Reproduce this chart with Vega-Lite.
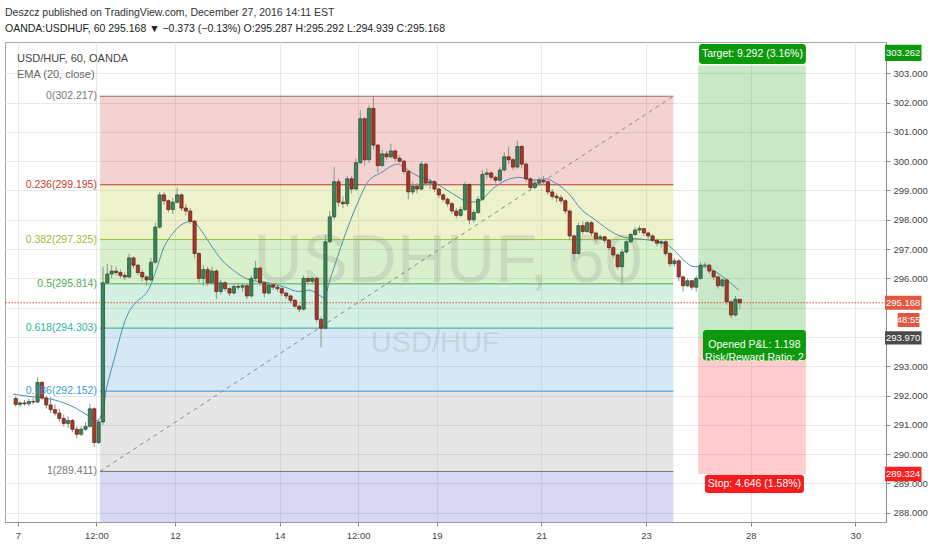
{
  "$schema": "https://vega.github.io/schema/vega-lite/v6.json",
  "width": 881,
  "height": 480,
  "autosize": {"type": "none"},
  "padding": {"left": 5, "top": 42, "right": 46, "bottom": 28},
  "background": "#ffffff",
  "title": {
    "text": "Deszcz published on TradingView.com, December 27, 2016 14:11 EST",
    "subtitle": "OANDA:USDHUF, 60  295.168 ▼ −0.373 (−0.13%)  O:295.287  H:295.292  L:294.939  C:295.168",
    "anchor": "start",
    "frame": "group",
    "font": "Liberation Sans",
    "subtitleFont": "Liberation Sans",
    "fontSize": 10.5,
    "fontWeight": "normal",
    "color": "#333333",
    "subtitleFontSize": 10.5,
    "subtitleColor": "#222222",
    "subtitlePadding": 5,
    "offset": 8
  },
  "config": {
    "view": {"stroke": "#a8a8a8"},
    "font": "Liberation Sans"
  },
  "resolve": {"scale": {"color": "independent"}},
  "datasets": {
    "levels": [
      {"t": 37.6, "t2": 300.5, "p": 302.217, "lvl": "0", "label": "0(302.217)"},
      {"t": 37.6, "t2": 300.5, "p": 299.195, "lvl": "0.236", "label": "0.236(299.195)"},
      {"t": 37.6, "t2": 300.5, "p": 297.325, "lvl": "0.382", "label": "0.382(297.325)"},
      {"t": 37.6, "t2": 300.5, "p": 295.814, "lvl": "0.5", "label": "0.5(295.814)"},
      {"t": 37.6, "t2": 300.5, "p": 294.303, "lvl": "0.618", "label": "0.618(294.303)"},
      {"t": 37.6, "t2": 300.5, "p": 292.152, "lvl": "0.786", "label": "0.786(292.152)"},
      {"t": 37.6, "t2": 300.5, "p": 289.411, "lvl": "1", "label": "1(289.411)"}
    ],
    "candles": [
      {"t": -1, "o": 291.9, "h": 291.98, "l": 291.62, "c": 291.7},
      {"t": 1, "o": 291.7, "h": 291.82, "l": 291.62, "c": 291.75},
      {"t": 3, "o": 291.75, "h": 291.85, "l": 291.66, "c": 291.72},
      {"t": 5, "o": 291.72, "h": 291.9, "l": 291.65, "c": 291.8},
      {"t": 7, "o": 291.8, "h": 291.92, "l": 291.7, "c": 291.78},
      {"t": 9, "o": 291.78, "h": 292.62, "l": 291.75, "c": 292.45},
      {"t": 11, "o": 292.45, "h": 292.5, "l": 291.85, "c": 291.92},
      {"t": 13, "o": 291.92, "h": 292.0, "l": 291.55, "c": 291.68},
      {"t": 15, "o": 291.68, "h": 291.95, "l": 291.4, "c": 291.52},
      {"t": 17, "o": 291.52, "h": 291.7, "l": 291.3, "c": 291.4},
      {"t": 19, "o": 291.4, "h": 291.55, "l": 291.1, "c": 291.22},
      {"t": 21, "o": 291.22, "h": 291.35, "l": 290.95, "c": 291.05},
      {"t": 23, "o": 291.05, "h": 291.3, "l": 290.9, "c": 291.15},
      {"t": 25, "o": 291.15, "h": 291.2, "l": 290.75, "c": 290.85},
      {"t": 27, "o": 290.85, "h": 290.95, "l": 290.55, "c": 290.68},
      {"t": 29, "o": 290.68, "h": 290.95, "l": 290.62, "c": 290.85},
      {"t": 31, "o": 290.85, "h": 291.1, "l": 290.8, "c": 290.95},
      {"t": 33, "o": 290.95, "h": 291.72, "l": 290.9, "c": 291.55},
      {"t": 35, "o": 291.55, "h": 291.6, "l": 290.25, "c": 290.4},
      {"t": 37, "o": 290.4, "h": 291.2, "l": 290.35, "c": 291.1},
      {"t": 39, "o": 291.1, "h": 296.4, "l": 291.0, "c": 295.85},
      {"t": 41, "o": 295.85, "h": 296.5, "l": 295.8, "c": 296.15},
      {"t": 43, "o": 296.15, "h": 296.45, "l": 296.0, "c": 296.25},
      {"t": 45, "o": 296.25, "h": 296.4, "l": 296.1, "c": 296.2},
      {"t": 47, "o": 296.2, "h": 296.3, "l": 296.0, "c": 296.1},
      {"t": 49, "o": 296.1, "h": 296.2, "l": 295.95, "c": 296.05},
      {"t": 51, "o": 296.05, "h": 296.85, "l": 296.0, "c": 296.7},
      {"t": 53, "o": 296.7, "h": 296.75, "l": 296.35, "c": 296.45},
      {"t": 55, "o": 296.45, "h": 296.5, "l": 296.1, "c": 296.2},
      {"t": 57, "o": 296.2, "h": 296.3, "l": 295.9, "c": 296.05},
      {"t": 59, "o": 296.05, "h": 296.1, "l": 295.75, "c": 295.95},
      {"t": 61, "o": 295.95, "h": 296.7, "l": 295.9, "c": 296.55},
      {"t": 63, "o": 296.55, "h": 297.9, "l": 296.5, "c": 297.75},
      {"t": 65, "o": 297.75, "h": 298.95, "l": 297.7, "c": 298.85},
      {"t": 67, "o": 298.85, "h": 298.95, "l": 298.5, "c": 298.65},
      {"t": 69, "o": 298.65, "h": 298.7, "l": 298.25, "c": 298.35},
      {"t": 71, "o": 298.35, "h": 298.75, "l": 298.2, "c": 298.6},
      {"t": 73, "o": 298.6, "h": 299.1, "l": 298.55, "c": 298.85},
      {"t": 75, "o": 298.85, "h": 298.9, "l": 298.3, "c": 298.4},
      {"t": 77, "o": 298.4, "h": 298.55, "l": 298.15, "c": 298.3},
      {"t": 79, "o": 298.3, "h": 298.4, "l": 297.85, "c": 297.95},
      {"t": 81, "o": 297.95, "h": 298.0, "l": 296.7, "c": 296.85},
      {"t": 83, "o": 296.85, "h": 296.9, "l": 295.85, "c": 296.0},
      {"t": 85, "o": 296.0, "h": 296.45, "l": 295.75, "c": 296.3},
      {"t": 87, "o": 296.3, "h": 296.4, "l": 295.75, "c": 295.85},
      {"t": 89, "o": 295.85, "h": 296.4, "l": 295.8, "c": 296.25},
      {"t": 91, "o": 296.25, "h": 296.3, "l": 295.3, "c": 295.55},
      {"t": 93, "o": 295.55, "h": 295.95, "l": 295.45, "c": 295.85},
      {"t": 95, "o": 295.85, "h": 295.9, "l": 295.55, "c": 295.65},
      {"t": 97, "o": 295.65, "h": 295.7, "l": 295.4, "c": 295.5},
      {"t": 99, "o": 295.5, "h": 295.8, "l": 295.45, "c": 295.72},
      {"t": 101, "o": 295.72, "h": 295.85, "l": 295.6, "c": 295.7},
      {"t": 103, "o": 295.7, "h": 295.82, "l": 295.55, "c": 295.75},
      {"t": 105, "o": 295.75, "h": 295.8, "l": 295.3, "c": 295.4},
      {"t": 107, "o": 295.4, "h": 296.1, "l": 295.35, "c": 296.0},
      {"t": 109, "o": 296.0, "h": 296.6, "l": 295.9, "c": 296.35},
      {"t": 111, "o": 296.35, "h": 296.4, "l": 295.75, "c": 295.85},
      {"t": 113, "o": 295.85, "h": 295.9, "l": 295.35, "c": 295.5},
      {"t": 115, "o": 295.5, "h": 295.85, "l": 295.45, "c": 295.78},
      {"t": 117, "o": 295.78, "h": 295.85, "l": 295.6, "c": 295.7},
      {"t": 119, "o": 295.7, "h": 295.8, "l": 295.55, "c": 295.65},
      {"t": 121, "o": 295.65, "h": 295.7, "l": 295.4, "c": 295.5},
      {"t": 123, "o": 295.5, "h": 295.55, "l": 295.3, "c": 295.4},
      {"t": 125, "o": 295.4, "h": 295.45, "l": 295.15, "c": 295.25},
      {"t": 127, "o": 295.25, "h": 295.3, "l": 295.0, "c": 295.05},
      {"t": 129, "o": 295.05, "h": 295.1, "l": 294.85, "c": 294.95},
      {"t": 131, "o": 294.95, "h": 296.1, "l": 294.9, "c": 296.0},
      {"t": 133, "o": 296.0, "h": 296.05, "l": 295.8, "c": 295.9},
      {"t": 135, "o": 295.9, "h": 296.05, "l": 295.8, "c": 296.0},
      {"t": 137, "o": 296.0, "h": 296.05, "l": 294.5, "c": 294.6},
      {"t": 139, "o": 294.6, "h": 294.7, "l": 293.65, "c": 294.3},
      {"t": 141, "o": 294.3, "h": 297.5, "l": 294.25, "c": 297.25},
      {"t": 143, "o": 297.25, "h": 298.3, "l": 297.2, "c": 298.1},
      {"t": 145, "o": 298.1, "h": 299.8, "l": 298.0, "c": 299.3},
      {"t": 147, "o": 299.3, "h": 299.4, "l": 298.45, "c": 298.6},
      {"t": 149, "o": 298.6, "h": 298.8, "l": 298.4, "c": 298.55},
      {"t": 151, "o": 298.55, "h": 299.5, "l": 298.45, "c": 299.4},
      {"t": 153, "o": 299.4, "h": 299.5, "l": 298.9, "c": 299.05},
      {"t": 155, "o": 299.05, "h": 300.1, "l": 299.0, "c": 299.95},
      {"t": 157, "o": 299.95, "h": 301.75, "l": 299.9, "c": 301.45},
      {"t": 159, "o": 301.45, "h": 301.5, "l": 299.85, "c": 300.05},
      {"t": 161, "o": 300.05, "h": 301.9, "l": 299.95, "c": 301.8},
      {"t": 163, "o": 301.8, "h": 302.22, "l": 300.4, "c": 300.55},
      {"t": 165, "o": 300.55, "h": 300.6, "l": 299.6, "c": 299.85},
      {"t": 167, "o": 299.85, "h": 300.4, "l": 299.8, "c": 300.25},
      {"t": 169, "o": 300.25, "h": 300.35, "l": 300.05, "c": 300.15},
      {"t": 171, "o": 300.15, "h": 300.6, "l": 300.1, "c": 300.35},
      {"t": 173, "o": 300.35, "h": 300.4, "l": 300.0, "c": 300.1},
      {"t": 175, "o": 300.1, "h": 300.2, "l": 299.95, "c": 300.0},
      {"t": 177, "o": 300.0, "h": 300.05, "l": 299.55, "c": 299.65},
      {"t": 179, "o": 299.65, "h": 299.7, "l": 298.7, "c": 298.95},
      {"t": 181, "o": 298.95, "h": 299.3, "l": 298.85, "c": 299.15},
      {"t": 183, "o": 299.15, "h": 299.25, "l": 298.9, "c": 299.05},
      {"t": 185, "o": 299.05, "h": 300.0, "l": 299.0, "c": 299.9},
      {"t": 187, "o": 299.9, "h": 299.95, "l": 299.15, "c": 299.25},
      {"t": 189, "o": 299.25, "h": 299.4, "l": 299.05, "c": 299.3},
      {"t": 191, "o": 299.3, "h": 299.35, "l": 298.95, "c": 299.05},
      {"t": 193, "o": 299.05, "h": 299.1, "l": 298.75, "c": 298.85},
      {"t": 195, "o": 298.85, "h": 298.9, "l": 298.6, "c": 298.7},
      {"t": 197, "o": 298.7, "h": 298.75, "l": 298.45, "c": 298.55},
      {"t": 199, "o": 298.55, "h": 298.6, "l": 298.2, "c": 298.3},
      {"t": 201, "o": 298.3, "h": 298.4, "l": 298.05, "c": 298.15},
      {"t": 203, "o": 298.15, "h": 298.45, "l": 298.1, "c": 298.35},
      {"t": 205, "o": 298.35, "h": 299.3, "l": 298.3, "c": 299.2},
      {"t": 207, "o": 299.2, "h": 299.25, "l": 297.85, "c": 298.0},
      {"t": 209, "o": 298.0, "h": 298.35, "l": 297.9, "c": 298.25},
      {"t": 211, "o": 298.25, "h": 298.8, "l": 298.2, "c": 298.7},
      {"t": 213, "o": 298.7, "h": 299.7, "l": 298.65, "c": 299.55},
      {"t": 215, "o": 299.55, "h": 299.75, "l": 299.4, "c": 299.6},
      {"t": 217, "o": 299.6, "h": 299.65, "l": 299.35, "c": 299.45},
      {"t": 219, "o": 299.45, "h": 299.5, "l": 299.25, "c": 299.35},
      {"t": 221, "o": 299.35, "h": 299.8, "l": 299.3, "c": 299.7},
      {"t": 223, "o": 299.7, "h": 300.3, "l": 299.65, "c": 300.15},
      {"t": 225, "o": 300.15, "h": 300.5, "l": 299.9, "c": 300.05},
      {"t": 227, "o": 300.05, "h": 300.1, "l": 299.7, "c": 299.8},
      {"t": 229, "o": 299.8, "h": 300.7, "l": 299.75, "c": 300.5},
      {"t": 231, "o": 300.5, "h": 300.55, "l": 299.75, "c": 299.9},
      {"t": 233, "o": 299.9, "h": 299.95, "l": 299.3, "c": 299.4},
      {"t": 235, "o": 299.4, "h": 299.45, "l": 299.0, "c": 299.1},
      {"t": 237, "o": 299.1, "h": 299.35, "l": 299.05, "c": 299.25},
      {"t": 239, "o": 299.25, "h": 299.45, "l": 299.15, "c": 299.35},
      {"t": 241, "o": 299.35, "h": 299.5, "l": 299.2, "c": 299.3},
      {"t": 243, "o": 299.3, "h": 299.35, "l": 298.85, "c": 298.95},
      {"t": 245, "o": 298.95, "h": 299.05, "l": 298.7, "c": 298.8},
      {"t": 247, "o": 298.8, "h": 298.9, "l": 298.6, "c": 298.75},
      {"t": 249, "o": 298.75, "h": 298.85, "l": 298.55, "c": 298.65},
      {"t": 251, "o": 298.65, "h": 298.7, "l": 298.2, "c": 298.3},
      {"t": 253, "o": 298.3, "h": 298.35, "l": 297.3, "c": 297.45},
      {"t": 255, "o": 297.45, "h": 297.5, "l": 296.6, "c": 296.85},
      {"t": 257, "o": 296.85, "h": 297.9, "l": 296.8, "c": 297.8},
      {"t": 259, "o": 297.8, "h": 297.95, "l": 297.5, "c": 297.6},
      {"t": 261, "o": 297.6, "h": 297.95, "l": 297.55, "c": 297.9},
      {"t": 263, "o": 297.9, "h": 297.95, "l": 297.45, "c": 297.55},
      {"t": 265, "o": 297.55, "h": 297.6, "l": 297.25, "c": 297.35},
      {"t": 267, "o": 297.35, "h": 297.5, "l": 297.3, "c": 297.42},
      {"t": 269, "o": 297.42, "h": 297.45, "l": 297.2, "c": 297.3},
      {"t": 271, "o": 297.3, "h": 297.35, "l": 296.95, "c": 297.05},
      {"t": 273, "o": 297.05, "h": 297.1, "l": 296.7, "c": 296.8},
      {"t": 275, "o": 296.8, "h": 296.85, "l": 296.3, "c": 296.4},
      {"t": 277, "o": 296.4, "h": 297.0, "l": 295.8, "c": 296.9},
      {"t": 279, "o": 296.9, "h": 297.3, "l": 296.85, "c": 297.25},
      {"t": 281, "o": 297.25, "h": 297.55, "l": 297.2, "c": 297.5},
      {"t": 283, "o": 297.5, "h": 297.75, "l": 297.45, "c": 297.65},
      {"t": 285, "o": 297.65, "h": 297.8, "l": 297.55, "c": 297.7},
      {"t": 287, "o": 297.7, "h": 297.72, "l": 297.45, "c": 297.55},
      {"t": 289, "o": 297.55, "h": 297.6, "l": 297.35, "c": 297.45},
      {"t": 291, "o": 297.45, "h": 297.5, "l": 297.25, "c": 297.3},
      {"t": 293, "o": 297.3, "h": 297.35, "l": 297.1, "c": 297.2},
      {"t": 295, "o": 297.2, "h": 297.3, "l": 297.05, "c": 297.25},
      {"t": 297, "o": 297.25, "h": 297.3, "l": 296.75, "c": 296.85},
      {"t": 299, "o": 296.85, "h": 296.9, "l": 296.4, "c": 296.5},
      {"t": 301, "o": 296.5, "h": 296.7, "l": 296.4, "c": 296.6},
      {"t": 303, "o": 296.6, "h": 296.65, "l": 295.9, "c": 296.05},
      {"t": 305, "o": 296.05, "h": 296.1, "l": 295.55, "c": 295.75},
      {"t": 307, "o": 295.75, "h": 296.0, "l": 295.7, "c": 295.92},
      {"t": 309, "o": 295.92, "h": 295.95, "l": 295.6, "c": 295.7},
      {"t": 311, "o": 295.7, "h": 296.1, "l": 295.55, "c": 296.0},
      {"t": 313, "o": 296.0, "h": 296.55, "l": 295.95, "c": 296.45},
      {"t": 315, "o": 296.45, "h": 296.55, "l": 296.35, "c": 296.45},
      {"t": 317, "o": 296.45, "h": 296.5, "l": 296.15, "c": 296.25},
      {"t": 319, "o": 296.25, "h": 296.3, "l": 295.95, "c": 296.05},
      {"t": 321, "o": 296.05, "h": 296.1, "l": 295.65, "c": 295.75},
      {"t": 323, "o": 295.75, "h": 296.0, "l": 295.7, "c": 295.95},
      {"t": 325, "o": 295.95, "h": 296.0, "l": 295.1, "c": 295.2},
      {"t": 327, "o": 295.2, "h": 295.25, "l": 294.65, "c": 294.75},
      {"t": 329, "o": 294.75, "h": 295.4, "l": 294.7, "c": 295.29},
      {"t": 331, "o": 295.287, "h": 295.292, "l": 294.939, "c": 295.168}
    ],
    "ema": [
      {"t": -2.3, "p": 292.05}, {"t": 7.7, "p": 291.95}, {"t": 16.8, "p": 291.85},
      {"t": 25.8, "p": 291.6}, {"t": 32.6, "p": 291.3}, {"t": 36.3, "p": 291.15},
      {"t": 38.1, "p": 291.3}, {"t": 40.8, "p": 292.3}, {"t": 44.0, "p": 293.2},
      {"t": 49.9, "p": 294.7}, {"t": 54.4, "p": 295.2}, {"t": 57.6, "p": 295.4},
      {"t": 59.8, "p": 295.6}, {"t": 63.5, "p": 296.3}, {"t": 66.6, "p": 297.0},
      {"t": 71.2, "p": 297.55}, {"t": 74.3, "p": 297.8}, {"t": 80.2, "p": 297.95},
      {"t": 83.4, "p": 297.7}, {"t": 87.9, "p": 297.2}, {"t": 93.8, "p": 296.6},
      {"t": 98.4, "p": 296.3}, {"t": 106.1, "p": 295.95}, {"t": 115.1, "p": 295.85},
      {"t": 122.4, "p": 295.7}, {"t": 128.7, "p": 295.55}, {"t": 133.3, "p": 295.6},
      {"t": 137.8, "p": 295.45}, {"t": 140.1, "p": 295.35}, {"t": 143.7, "p": 296.1},
      {"t": 149.6, "p": 297.4}, {"t": 155.9, "p": 298.6}, {"t": 160.5, "p": 299.3},
      {"t": 166.4, "p": 299.6}, {"t": 174.1, "p": 299.9}, {"t": 176.8, "p": 299.8},
      {"t": 183.1, "p": 299.5}, {"t": 189.0, "p": 299.35}, {"t": 194.9, "p": 299.1},
      {"t": 201.3, "p": 298.8}, {"t": 207.2, "p": 298.6}, {"t": 211.7, "p": 298.65},
      {"t": 217.6, "p": 299.05}, {"t": 223.9, "p": 299.35}, {"t": 229.8, "p": 299.45},
      {"t": 235.7, "p": 299.35}, {"t": 242.1, "p": 299.4}, {"t": 246.6, "p": 299.25},
      {"t": 252.5, "p": 298.9}, {"t": 258.4, "p": 298.35}, {"t": 264.7, "p": 298.0},
      {"t": 272.0, "p": 297.6}, {"t": 278.3, "p": 297.4}, {"t": 284.2, "p": 297.35},
      {"t": 290.1, "p": 297.3}, {"t": 296.5, "p": 297.2}, {"t": 301.0, "p": 296.95},
      {"t": 305.5, "p": 296.6}, {"t": 310.1, "p": 296.4}, {"t": 314.6, "p": 296.4},
      {"t": 320.5, "p": 296.2}, {"t": 325.0, "p": 295.95}, {"t": 330.5, "p": 295.6}
    ]
  },
  "layer": [
    {
      "data": {"values": [
        {"t": 37.6, "t2": 300.5, "p": 302.217, "p2": 299.195, "band": "0-0.236"},
        {"t": 37.6, "t2": 300.5, "p": 299.195, "p2": 297.325, "band": "0.236-0.382"},
        {"t": 37.6, "t2": 300.5, "p": 297.325, "p2": 295.814, "band": "0.382-0.5"},
        {"t": 37.6, "t2": 300.5, "p": 295.814, "p2": 294.303, "band": "0.5-0.618"},
        {"t": 37.6, "t2": 300.5, "p": 294.303, "p2": 292.152, "band": "0.618-0.786"},
        {"t": 37.6, "t2": 300.5, "p": 292.152, "p2": 289.411, "band": "0.786-1"},
        {"t": 37.6, "t2": 300.5, "p": 289.411, "p2": 281.496, "band": "1-1.618"}
      ]},
      "mark": {"type": "rect", "clip": true, "opacity": 0.2},
      "encoding": {
        "x": {
          "field": "t", "type": "quantitative", "title": null,
          "scale": {"domain": [-3.63, 395.74], "nice": false, "zero": false},
          "axis": {
            "title": null,
            "values": [0, 36, 72, 120, 156, 192, 240, 288, 336, 384],
            "tickCount": 30,
            "labelExpr": "datum.value==0?'7':datum.value==36?'12:00':datum.value==72?'12':datum.value==120?'14':datum.value==156?'12:00':datum.value==192?'19':datum.value==240?'21':datum.value==288?'23':datum.value==336?'28':'30'",
            "grid": true, "gridColor": "#e9e9e9",
            "tickColor": "#888888", "tickSize": 4,
            "domainColor": "#999999",
            "labelFont": "Liberation Sans",
            "labelFontSize": 9.5, "labelColor": "#444444", "labelPadding": 4
          }
        },
        "x2": {"field": "t2"},
        "y": {
          "field": "p", "type": "quantitative", "title": null,
          "scale": {"domain": [287.686, 304.068], "nice": false, "zero": false},
          "axis": {
            "title": null, "orient": "right",
            "values": [288, 289, 290, 291, 292, 293, 294, 295, 296, 297, 298, 299, 300, 301, 302, 303],
            "tickCount": 30,
            "format": ".3f",
            "labelExpr": "(datum.value == 294 || datum.value == 295) ? '' : datum.label",
            "labelOverlap": false,
            "grid": true, "gridColor": "#e9e9e9",
            "tickColor": "#888888", "tickSize": 4,
            "domainColor": "#888888",
            "labelFont": "Liberation Sans",
            "labelFontSize": 9.5, "labelColor": "#444444", "labelPadding": 3
          }
        },
        "y2": {"field": "p2"},
        "color": {
          "field": "band", "type": "nominal", "legend": null,
          "scale": {
            "domain": ["0-0.236", "0.236-0.382", "0.382-0.5", "0.5-0.618", "0.618-0.786", "0.786-1", "1-1.618"],
            "range": ["#cc2020", "#aabe00", "#40b404", "#26b46c", "#308ccd", "#828282", "#3c3cbe"]
          }
        }
      }
    },
    {
      "data": {"values": [
        {"t": 311.9, "t2": 361.3, "p": 293.97, "p2": 303.262, "kind": "profit"},
        {"t": 311.9, "t2": 361.3, "p": 289.324, "p2": 293.97, "kind": "loss"}
      ]},
      "mark": {"type": "rect", "opacity": 0.25},
      "encoding": {
        "x": {"field": "t", "type": "quantitative", "title": null},
        "x2": {"field": "t2"},
        "y": {"field": "p", "type": "quantitative", "title": null},
        "y2": {"field": "p2"},
        "color": {
          "field": "kind", "type": "nominal", "legend": null,
          "scale": {"domain": ["profit", "loss"], "range": ["#22a322", "#ff3737"]}
        }
      }
    },
    {
      "data": {"name": "levels"},
      "mark": {"type": "rule", "strokeWidth": 1},
      "encoding": {
        "x": {"field": "t", "type": "quantitative", "title": null},
        "x2": {"field": "t2"},
        "y": {"field": "p", "type": "quantitative", "title": null},
        "color": {
          "field": "lvl", "type": "nominal", "legend": null,
          "scale": {
            "domain": ["0", "0.236", "0.382", "0.5", "0.618", "0.786", "1"],
            "range": ["#8c7070", "#c0392b", "#9cc23a", "#4caf50", "#2fa898", "#3399dd", "#777777"]
          }
        }
      }
    },
    {
      "data": {"values": [{"t": 37.6, "p": 289.411, "t2": 300.5, "p2": 302.217}]},
      "mark": {"type": "rule", "strokeDash": [4, 4], "color": "#8a8a8a", "strokeWidth": 1},
      "encoding": {
        "x": {"field": "t", "type": "quantitative", "title": null},
        "y": {"field": "p", "type": "quantitative", "title": null},
        "x2": {"field": "t2"},
        "y2": {"field": "p2"}
      }
    },
    {
      "data": {"values": [{"t": 197.2, "p": 295.88, "label": "USDHUF, 60"}]},
      "mark": {"type": "text", "fontSize": 68, "fill": "#7a7a7a", "opacity": 0.17, "align": "center", "baseline": "alphabetic"},
      "encoding": {
        "x": {"field": "t", "type": "quantitative", "title": null},
        "y": {"field": "p", "type": "quantitative", "title": null},
        "text": {"field": "label"}
      }
    },
    {
      "data": {"values": [{"t": 191.3, "p": 293.49, "label": "USD/HUF"}]},
      "mark": {"type": "text", "fontSize": 29, "fill": "#7a7a7a", "opacity": 0.17, "align": "center", "baseline": "alphabetic"},
      "encoding": {
        "x": {"field": "t", "type": "quantitative", "title": null},
        "y": {"field": "p", "type": "quantitative", "title": null},
        "text": {"field": "label"}
      }
    },
    {
      "data": {"values": [{"p": 295.168}]},
      "mark": {"type": "rule", "color": "#d9533a", "strokeDash": [1.5, 1.5], "strokeWidth": 1},
      "encoding": {
        "y": {"field": "p", "type": "quantitative", "title": null}
      }
    },
    {
      "data": {"name": "ema"},
      "mark": {"type": "line", "color": "#4f8fab", "strokeWidth": 1, "interpolate": "monotone"},
      "encoding": {
        "x": {"field": "t", "type": "quantitative", "title": null},
        "y": {"field": "p", "type": "quantitative", "title": null}
      }
    },
    {
      "data": {"name": "candles"},
      "mark": {"type": "rule", "strokeWidth": 1, "color": "#85968b"},
      "encoding": {
        "x": {"field": "t", "type": "quantitative", "title": null},
        "y": {"field": "l", "type": "quantitative", "title": null},
        "y2": {"field": "h"}
      }
    },
    {
      "data": {"name": "candles"},
      "mark": {"type": "bar", "width": 3.2, "strokeWidth": 0.7},
      "encoding": {
        "x": {"field": "t", "type": "quantitative", "title": null},
        "y": {"field": "o", "type": "quantitative", "title": null},
        "y2": {"field": "c"},
        "fill": {"condition": {"test": "datum.c >= datum.o", "value": "#3b855a"}, "value": "#a8382a"},
        "stroke": {"condition": {"test": "datum.c >= datum.o", "value": "#1f4a32"}, "value": "#5e1a12"}
      }
    },
    {
      "data": {"name": "levels"},
      "mark": {"type": "text", "align": "right", "baseline": "middle", "dx": -3, "fontSize": 10.5},
      "encoding": {
        "x": {"field": "t", "type": "quantitative", "title": null},
        "y": {"field": "p", "type": "quantitative", "title": null},
        "text": {"field": "label"},
        "color": {
          "field": "lvl", "type": "nominal", "legend": null,
          "scale": {
            "domain": ["0", "0.236", "0.382", "0.5", "0.618", "0.786", "1"],
            "range": ["#777777", "#cc3a32", "#a5b83c", "#4caf50", "#2fb59b", "#3a9ad9", "#777777"]
          }
        }
      }
    },
    {
      "data": {"values": [
        {"t": -0.45, "p": 303.49, "label": "USD/HUF, 60, OANDA", "k": "a"},
        {"t": -0.45, "p": 302.94, "label": "EMA (20, close)", "k": "b"}
      ]},
      "mark": {"type": "text", "align": "left", "baseline": "middle", "fontSize": 11},
      "encoding": {
        "x": {"field": "t", "type": "quantitative", "title": null},
        "y": {"field": "p", "type": "quantitative", "title": null},
        "text": {"field": "label"},
        "color": {"field": "k", "type": "nominal", "legend": null, "scale": {"domain": ["a", "b"], "range": ["#444444", "#666666"]}}
      }
    },
    {
      "data": {"values": [
        {"t": 312.3, "t2": 361.3, "p": 304.0, "p2": 303.32, "tm": 336.8, "pm": 303.66, "kind": "target", "label": "Target: 9.292 (3.16%)"},
        {"t": 314.1, "t2": 361.3, "p": 294.24, "p2": 293.2, "tm": 337.7, "pm": 293.72, "kind": "pnl", "label": "Opened P&L: 1.198\nRisk/Reward Ratio: 2"},
        {"t": 315.0, "t2": 360.4, "p": 289.3, "p2": 288.68, "tm": 337.7, "pm": 288.99, "kind": "stop", "label": "Stop: 4.646 (1.58%)"}
      ]},
      "layer": [
        {
          "mark": {"type": "rect", "cornerRadius": 3},
          "encoding": {
            "x": {"field": "t", "type": "quantitative", "title": null},
            "x2": {"field": "t2"},
            "y": {"field": "p", "type": "quantitative", "title": null},
            "y2": {"field": "p2"},
            "color": {
              "field": "kind", "type": "nominal", "legend": null,
              "scale": {"domain": ["target", "pnl", "stop"], "range": ["#0c9a0c", "#0c9a0c", "#f41c1c"]}
            }
          }
        },
        {
          "mark": {"type": "text", "color": "#ffffff", "fontSize": 10.5, "align": "center", "baseline": "middle", "lineBreak": "\n", "lineHeight": 12.5},
          "encoding": {
            "x": {"field": "tm", "type": "quantitative", "title": null},
            "y": {"field": "pm", "type": "quantitative", "title": null},
            "text": {"field": "label"}
          }
        }
      ]
    },
    {
      "data": {"values": [
        {"t": 397.6, "t2": 414.3, "hi": 303.97, "lo": 303.42, "tm": 405.9, "pm": 303.695, "kind": "target", "label": "303.262"},
        {"t": 397.6, "t2": 414.3, "hi": 295.41, "lo": 294.93, "tm": 405.9, "pm": 295.168, "kind": "last", "label": "295.168"},
        {"t": 403.4, "t2": 413.4, "hi": 294.82, "lo": 294.34, "tm": 408.4, "pm": 294.58, "kind": "last", "label": "48:55"},
        {"t": 397.6, "t2": 414.3, "hi": 294.2, "lo": 293.74, "tm": 405.9, "pm": 293.97, "kind": "entry", "label": "293.970"},
        {"t": 397.6, "t2": 414.3, "hi": 289.57, "lo": 289.08, "tm": 405.9, "pm": 289.324, "kind": "stop", "label": "289.324"}
      ]},
      "layer": [
        {
          "mark": {"type": "rect"},
          "encoding": {
            "x": {"field": "t", "type": "quantitative", "title": null},
            "x2": {"field": "t2"},
            "y": {"field": "hi", "type": "quantitative", "title": null},
            "y2": {"field": "lo"},
            "color": {
              "field": "kind", "type": "nominal", "legend": null,
              "scale": {"domain": ["target", "last", "entry", "stop"], "range": ["#0c9a0c", "#e0583e", "#4a4a4a", "#ff1f1f"]}
            }
          }
        },
        {
          "mark": {"type": "text", "color": "#ffffff", "fontSize": 9.5, "align": "center", "baseline": "middle"},
          "encoding": {
            "x": {"field": "tm", "type": "quantitative", "title": null},
            "y": {"field": "pm", "type": "quantitative", "title": null},
            "text": {"field": "label"}
          }
        }
      ]
    }
  ]
}
